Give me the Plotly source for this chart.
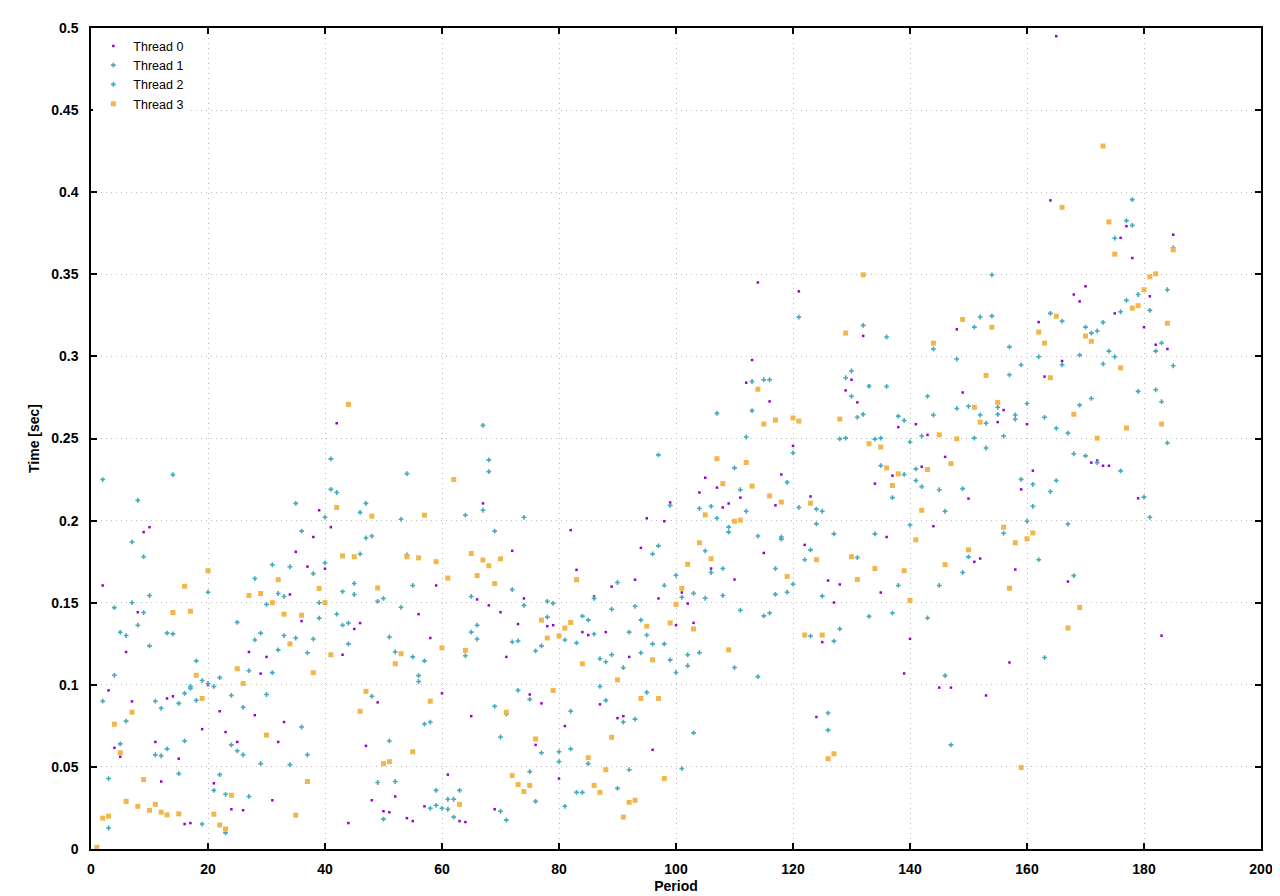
import plotly.graph_objects as go

# ---------------- data ----------------
T0_PERIODS = ([p for p in range(2, 18)] + [p for p in range(19, 53)] + [p for p in range(54, 62)]
              + [p for p in range(63, 119)] + [p for p in range(120, 154)] + [p for p in range(155, 186)])
T0_TIMES = [
    0.1605, 0.0966, 0.0616, 0.0562, 0.120, 0.0899, 0.1442, 0.193, 0.196, 0.0652, 0.0411, 0.0917, 0.093, 0.055, 0.0152, 0.0158,
    0.073, 0.0998, 0.040, 0.0839, 0.0712, 0.0242, 0.0652, 0.0236, 0.120, 0.0815, 0.1068, 0.117, 0.0297, 0.0652, 0.0773,
    0.155, 0.181, 0.1388, 0.172, 0.190, 0.2063, 0.1707, 0.196, 0.2593, 0.1183, 0.0158, 0.134, 0.1376, 0.0628, 0.0297,
    0.0893, 0.023, 0.0224, 0.032,
    0.0188, 0.017, 0.143, 0.026, 0.1285, 0.1605, 0.0948, 0.0453,
    0.017, 0.0164, 0.0809, 0.152, 0.2105, 0.1484, 0.0242, 0.1442, 0.117, 0.1816, 0.137, 0.1526, 0.0941, 0.0634, 0.0887,
    0.1357, 0.1363, 0.0429, 0.0749, 0.1942, 0.170, 0.1321, 0.1303, 0.1538, 0.0881, 0.1321, 0.1598, 0.0797, 0.0809,
    0.117, 0.164, 0.1834, 0.2014, 0.0604, 0.1526, 0.1996, 0.211, 0.1363, 0.1562, 0.1495, 0.1377, 0.2171, 0.2261,
    0.1708, 0.2201, 0.208, 0.2104, 0.1641, 0.214, 0.284, 0.2978, 0.345, 0.1803, 0.2726, 0.2093, 0.2281,
    0.2455, 0.3396, 0.1852, 0.2147, 0.0804, 0.126, 0.1635, 0.1501, 0.1611, 0.2793, 0.2858, 0.272, 0.3125, 0.2821,
    0.2225, 0.1562, 0.190, 0.2274, 0.2569, 0.1069, 0.128, 0.2587, 0.2328, 0.2522, 0.1966, 0.0983, 0.2388, 0.0983,
    0.3165, 0.278, 0.2134, 0.1749, 0.1769, 0.0935,
    0.260, 0.2673, 0.1136, 0.1702, 0.219, 0.2587, 0.2304, 0.3209, 0.2877, 0.395, 0.495, 0.2972, 0.1629, 0.3377,
    0.3335, 0.3427, 0.2353, 0.2366, 0.2334, 0.2334, 0.3262, 0.3722, 0.3793, 0.3599, 0.2136, 0.3178, 0.3366, 0.3071,
    0.1299, 0.3045, 0.3741,
]

T1_PERIODS = [p for p in range(2, 186)]
T1_TIMES = [
    0.225, 0.0429, 0.147, 0.132, 0.130, 0.187, 0.2123, 0.178, 0.1544, 0.090, 0.0857, 0.1315, 0.228, 0.0887, 0.0948,
    0.099, 0.1146, 0.1026, 0.1564, 0.099, 0.1044, 0.0333, 0.0935, 0.138, 0.0863, 0.1086, 0.1647, 0.1315, 0.149,
    0.1731, 0.1556, 0.1538, 0.1719, 0.2105, 0.1936, 0.1195, 0.1677, 0.150, 0.202, 0.2376, 0.2171, 0.1568, 0.1376,
    0.1617, 0.205, 0.2105, 0.1906, 0.1508, 0.1526, 0.1291, 0.120, 0.2008, 0.2286, 0.1605, 0.1056, 0.1146, 0.0773,
    0.0357, 0.0248, 0.0303, 0.0303, 0.0357, 0.2033, 0.1538, 0.1363, 0.258, 0.237, 0.1936, 0.0682, 0.0821, 0.158,
    0.1267, 0.202, 0.0911, 0.1207, 0.1237, 0.1508, 0.1496, 0.0592, 0.1273, 0.0839, 0.1255, 0.1418, 0.1394, 0.1526,
    0.1159, 0.114, 0.146, 0.1623, 0.1104, 0.1321, 0.1478, 0.1394, 0.1303, 0.1797, 0.240, 0.1605, 0.2093, 0.1667,
    0.1533, 0.1183, 0.1557, 0.2074, 0.1816, 0.2087, 0.2653, 0.1708, 0.196, 0.2321, 0.2188, 0.2509, 0.2847, 0.1906,
    0.2858, 0.2858, 0.1708, 0.190, 0.2233, 0.2412, 0.3239, 0.1762, 0.1822, 0.207, 0.2057, 0.0828, 0.1919, 0.2498,
    0.287, 0.2911, 0.2629, 0.3189, 0.2817, 0.2496, 0.2502, 0.3118, 0.214, 0.2636, 0.261, 0.2479, 0.2315, 0.2515,
    0.2757, 0.3045, 0.2188, 0.2057, 0.0634, 0.2984, 0.2195, 0.2696, 0.3178, 0.324, 0.2593, 0.3497, 0.269, 0.2515,
    0.3058, 0.2643, 0.2948, 0.2713, 0.2221, 0.2998, 0.2629, 0.3262, 0.2562, 0.3215, 0.2533, 0.2407, 0.3008, 0.3178,
    0.3142, 0.3155, 0.3207, 0.3032, 0.372, 0.3272, 0.3827, 0.3955, 0.3377, 0.2143, 0.328, 0.3032, 0.3082, 0.3406,
    0.3662,
]

T2_MISSING = (60, 63, 79, 122, 147, 174, 180)
T2_PERIODS = [p for p in range(2, 186) if p not in T2_MISSING]
T2_TIMES = [
    0.090, 0.0128, 0.1058, 0.064, 0.0779, 0.150, 0.1363, 0.144, 0.1237, 0.0574, 0.0568, 0.061, 0.131, 0.0459, 0.0658,
    0.0978, 0.0905, 0.0152, 0.1008, 0.0357, 0.0453, 0.0098, 0.0634, 0.0598, 0.0574, 0.032, 0.1273, 0.052, 0.0941,
    0.1074, 0.1213, 0.130, 0.0514, 0.1285, 0.0743, 0.0574, 0.1279, 0.1406, 0.1743, 0.219, 0.143, 0.1363, 0.1249,
    0.155, 0.1797, 0.1894, 0.093, 0.0405, 0.0182, 0.0658, 0.0411, 0.1472, 0.1791, 0.117, 0.102, 0.0761, 0.0248,
    0.0266, 0.0242, 0.0194, 0.1177, 0.1321, 0.1279, 0.2063, 0.2298, 0.0869, 0.023, 0.0176, 0.1261,
    0.0966, 0.1484, 0.0471, 0.029, 0.0586, 0.1412, 0.0532, 0.026, 0.061, 0.0345, 0.0345, 0.052, 0.1309,
    0.099, 0.0905, 0.1183, 0.0369, 0.0773, 0.0483, 0.0791, 0.1195, 0.0954, 0.1249, 0.1846, 0.1249, 0.1152, 0.1075,
    0.049, 0.1116, 0.0707, 0.1196, 0.1527, 0.1684, 0.2014, 0.1544, 0.193, 0.1105, 0.1454, 0.2057, 0.267, 0.105,
    0.142, 0.1437, 0.1551, 0.1887, 0.1564, 0.1613, 0.208, 0.1297, 0.198, 0.154, 0.0724, 0.1266, 0.134,
    0.2502, 0.2757, 0.1775, 0.2647, 0.1417, 0.1919, 0.2335, 0.2817, 0.1437, 0.1605, 0.2281, 0.1973, 0.2244, 0.2207,
    0.1407, 0.2643, 0.1605, 0.1056, 0.2683, 0.1684, 0.1779, 0.2502, 0.2643, 0.2442, 0.3245, 0.2647, 0.1923,
    0.2888, 0.2617, 0.2251, 0.1996, 0.2087, 0.1762, 0.1166, 0.2177, 0.2244, 0.2949, 0.1979, 0.1665, 0.2703, 0.2394,
    0.2744, 0.2353, 0.2954, 0.2998, 0.2303, 0.3341, 0.3798, 0.2787, 0.202, 0.2797, 0.2724, 0.2473,
    0.2943,
]

T3_PERIODS = [p for p in range(1, 28)] + [p for p in range(29, 186)]
T3_TIMES = [
    0.001, 0.0188, 0.020, 0.076, 0.0586, 0.029, 0.0833, 0.026, 0.0423, 0.0236, 0.0272, 0.0224, 0.0208, 0.144, 0.0214,
    0.160, 0.1448, 0.1058, 0.0917, 0.1695, 0.0212, 0.0146, 0.0122, 0.0327, 0.1098, 0.1008, 0.1544,
    0.1556, 0.0694, 0.150, 0.164, 0.143, 0.1249, 0.0206, 0.1424, 0.0411, 0.1074, 0.1587, 0.150, 0.1183, 0.208,
    0.1785, 0.2708, 0.178, 0.0839, 0.096, 0.2027, 0.159, 0.052, 0.0532, 0.1128, 0.1189, 0.178, 0.0592, 0.1773,
    0.2033, 0.090, 0.175, 0.1225, 0.165, 0.225, 0.0272, 0.121, 0.180, 0.1665, 0.176, 0.1725, 0.1617, 0.1767,
    0.0833, 0.0447, 0.0393, 0.035, 0.0387, 0.067, 0.1394, 0.1285, 0.0966, 0.1297, 0.1345, 0.138, 0.164, 0.1128,
    0.0556, 0.0387, 0.0345, 0.0483, 0.068, 0.103, 0.0194, 0.0284, 0.0297, 0.0917, 0.1357, 0.1152, 0.0917, 0.0429,
    0.1377, 0.149, 0.1588, 0.1734, 0.134, 0.1865, 0.2035, 0.1768, 0.2377, 0.2225, 0.1213, 0.1996, 0.2003, 0.2354,
    0.221, 0.280, 0.2588, 0.215, 0.2612, 0.2113, 0.166, 0.2625, 0.2606, 0.1303, 0.2106, 0.1762, 0.1303, 0.055,
    0.058, 0.2618, 0.3142, 0.178, 0.1641, 0.3497, 0.2468, 0.1708, 0.2448, 0.2321, 0.2214, 0.2285, 0.1695, 0.1514,
    0.1883, 0.2063, 0.2311, 0.3081, 0.2522, 0.1732, 0.2347, 0.2498, 0.3225, 0.1822, 0.269, 0.260, 0.2884, 0.3178,
    0.272, 0.196, 0.1588, 0.1865, 0.0496, 0.1889, 0.1925, 0.3148, 0.3081, 0.287, 0.3245, 0.3908, 0.1346, 0.2648,
    0.1471, 0.3124, 0.3092, 0.2502, 0.4281, 0.3819, 0.3623, 0.293, 0.2564, 0.3294, 0.3309, 0.3406, 0.3485, 0.3503,
    0.2588, 0.3202, 0.3649,
]

SERIES = [
    ("Thread 0", T0_PERIODS, T0_TIMES),
    ("Thread 1", T1_PERIODS, T1_TIMES),
    ("Thread 2", T2_PERIODS, T2_TIMES),
    ("Thread 3", T3_PERIODS, T3_TIMES),
]
X_TICKS = [0, 20, 40, 60, 80, 100, 120, 140, 160, 180, 200]
Y_TICKS = [0, 0.05, 0.1, 0.15, 0.2, 0.25, 0.3, 0.35, 0.4, 0.45, 0.5]
Y_TICK_LABELS = ["0", "0.05", "0.1", "0.15", "0.2", "0.25", "0.3", "0.35", "0.4", "0.45", "0.5"]

# ---------------- styling ----------------
STYLES = {
    "Thread 0": dict(symbol="square", size=2.5, color="#9400d3"),
    "Thread 1": dict(symbol="cross", size=4, color="#45aabb"),
    "Thread 2": dict(symbol="cross", size=4, color="#45aabb"),
    "Thread 3": dict(symbol="square", size=5, color="#f2b64a"),
}

fig = go.Figure()
for name, xs, ys in SERIES:
    st = STYLES[name]
    fig.add_trace(go.Scatter(
        x=xs, y=ys, mode="markers", name=name,
        marker=dict(symbol=st["symbol"], size=st["size"], color=st["color"], line=dict(width=0)),
    ))

FONT = "Liberation Sans, Arial, Helvetica, sans-serif"
axis_common = dict(
    showline=True, linecolor="black", linewidth=1.5, mirror="allticks",
    ticks="inside", ticklen=6, tickwidth=1.5, tickcolor="black",
    showgrid=True, gridcolor="#bdbdbd", griddash="1px,4px", gridwidth=1,
    zeroline=False,
    tickfont=dict(family=FONT, size=14, color="black", weight="bold"),
    title_font=dict(family=FONT, size=14, color="black", weight="bold"),
)

fig.update_xaxes(range=[0, 200], tickvals=X_TICKS, title_text="Period", title_standoff=6,
                 ticklabelstandoff=6, **axis_common)
fig.update_yaxes(range=[0, 0.5], tickvals=Y_TICKS, ticktext=Y_TICK_LABELS, title_text="Time [sec]",
                 title_standoff=8, ticklabelstandoff=8, **axis_common)

fig.update_layout(
    width=1280, height=896,
    margin=dict(l=83, r=27, t=16, b=50),
    paper_bgcolor="white", plot_bgcolor="white",
    font=dict(family=FONT, size=13, color="black"),
    legend=dict(x=0.002, y=0.996, xanchor="left", yanchor="top", bgcolor="white",
                font=dict(family=FONT, size=12.5, color="black"), itemwidth=30,
                tracegroupgap=0, borderwidth=0),
    showlegend=True,
)

fig.write_html("out.html")
